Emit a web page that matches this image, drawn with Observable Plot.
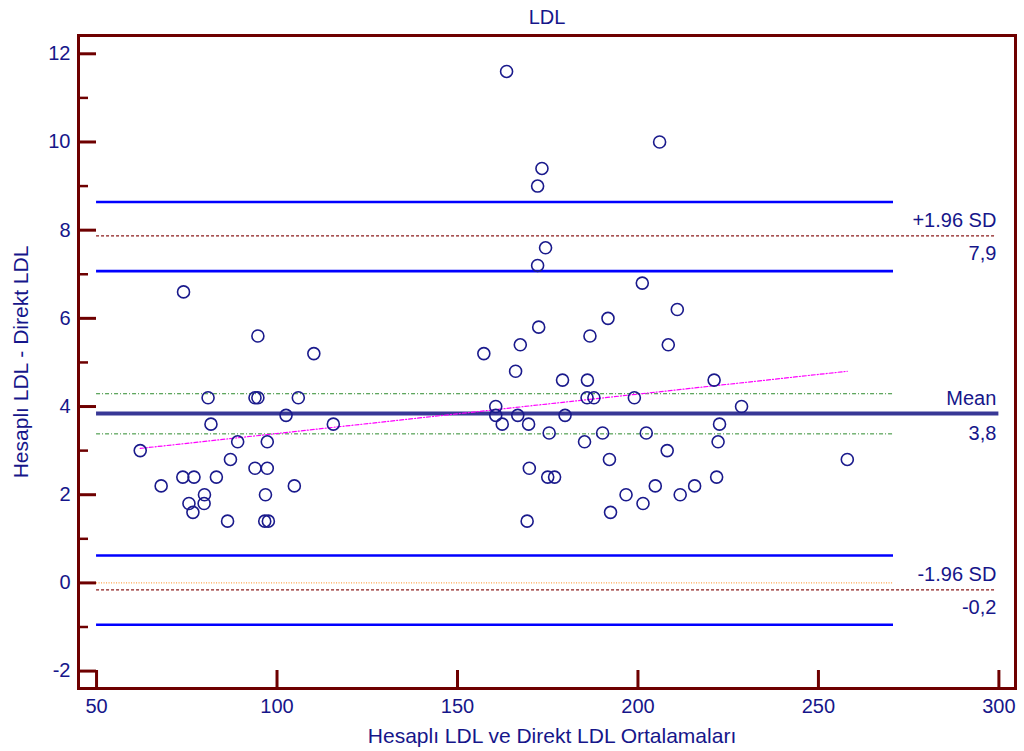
<!DOCTYPE html>
<html>
<head>
<meta charset="utf-8">
<script src="https://cdn.jsdelivr.net/npm/d3@7"></script>
<script src="https://cdn.jsdelivr.net/npm/@observablehq/plot@0.6"></script>
<style>
  html, body { margin: 0; padding: 0; background: #ffffff; }
  #chart svg { display: block; }
</style>
</head>
<body>
<div id="chart"></div>
<script>
// Bland-Altman plot: calculated vs. direct LDL
const title = "LDL";
const xLabel = "Hesaplı LDL ve Direkt LDL Ortalamaları";
const yLabel = "Hesaplı LDL - Direkt LDL";

// Mean of the two methods (x) and their difference (y) per subject
const pairMeans = [
  74.1, 94.7, 110.2, 80.9, 93.9, 94.7, 105.9, 102.5, 81.7, 115.6,
  62.1, 89.1, 97.3, 87.1, 93.9, 97.3, 73.9, 77.0, 83.2, 67.9,
  104.8, 79.9, 96.8, 75.6, 79.8, 76.7, 86.3, 96.6, 97.6,
  163.6, 206.0, 173.4, 172.2, 174.4, 172.2, 201.2, 210.9, 191.7, 172.5,
  186.7, 167.4, 208.4, 157.3, 166.1, 179.1, 186.0, 185.9, 187.8, 199.0,
  160.6, 160.6, 166.7, 179.8, 162.4, 169.7, 175.4, 190.2, 202.3, 185.2,
  192.1, 208.1, 169.9, 175.0, 176.9, 196.7, 201.4, 204.8, 211.7, 215.7,
  192.4, 169.3,
  221.1, 228.7, 222.6, 222.2, 221.8, 258.0
];
const pairDiffs = [
  6.6, 5.6, 5.2, 4.2, 4.2, 4.2, 4.2, 3.8, 3.6, 3.6,
  3.0, 3.2, 3.2, 2.8, 2.6, 2.6, 2.4, 2.4, 2.4, 2.2,
  2.2, 2.0, 2.0, 1.8, 1.8, 1.6, 1.4, 1.4, 1.4,
  11.6, 10.0, 9.4, 9.0, 7.6, 7.2, 6.8, 6.2, 6.0, 5.8,
  5.6, 5.4, 5.4, 5.2, 4.8, 4.6, 4.6, 4.2, 4.2, 4.2,
  4.0, 3.8, 3.8, 3.8, 3.6, 3.6, 3.4, 3.4, 3.4, 3.2,
  2.8, 3.0, 2.6, 2.4, 2.4, 2.0, 1.8, 2.2, 2.0, 2.2,
  1.6, 1.4,
  4.6, 4.0, 3.6, 3.2, 2.4, 2.8
];

// Agreement statistics
const meanDiff = 3.84;
const upperLimit = 7.87;
const lowerLimit = -0.16;
const meanCI = [4.29, 3.38];
const upperLimitCI = [8.64, 7.07];
const lowerLimitCI = [0.62, -0.95];
const regressionX = [62.1, 258.0];
const regressionY = [3.05, 4.80];

// Horizontal extent of the reference lines
const lineStart = 50;
const ciEnd = 270.8;
const limitEnd = 299.3;
const meanEnd = 300;

// Axis ticks
const xTicks = [50, 100, 150, 200, 250, 300];
const yMajorTicks = [-2, 0, 2, 4, 6, 8, 10, 12];
const yMinorTicks = [-1, 1, 3, 5, 7, 9, 11];

const points = pairMeans.map((m, i) => ({mean: m, diff: pairDiffs[i]}));
const regression = regressionX.map((x, i) => ({x, y: regressionY[i]}));
const fmt = v => v.toFixed(1).replace(".", ",");

const W = 1024, H = 751;
const mL = 78, mR = 9, mT = 35, mB = 63;
const frameW = W - mL - mR, frameH = H - mT - mB;

const navy = "#16168a";
const maroon = "#6e0000";
const font = "Liberation Sans, Arial, Helvetica, sans-serif";

const chart = Plot.plot({
  width: W,
  height: H,
  marginLeft: mL,
  marginRight: mR,
  marginTop: mT,
  marginBottom: mB,
  style: {fontFamily: font, fontSize: "20px", color: navy, background: "#ffffff"},
  x: {domain: [45.0, 304.6], label: null},
  y: {domain: [-2.395, 12.415], label: null},
  marks: [
    // zero line
    Plot.ruleY([0], {x1: lineStart, x2: ciEnd, stroke: "#ff8c1a", strokeWidth: 1, strokeDasharray: "1,1.5"}),
    // confidence intervals of the limits of agreement
    Plot.ruleY([...upperLimitCI, ...lowerLimitCI], {x1: lineStart, x2: ciEnd, stroke: "#0000ff", strokeWidth: 2.6}),
    // confidence interval of the mean difference
    Plot.ruleY(meanCI, {x1: lineStart, x2: ciEnd, stroke: "#2e8b2e", strokeWidth: 1, strokeDasharray: "4,2,1,2"}),
    // limits of agreement
    Plot.ruleY([upperLimit, lowerLimit], {x1: lineStart, x2: limitEnd, stroke: "#8b1a1a", strokeWidth: 1.2, strokeDasharray: "3,2"}),
    // mean difference
    Plot.ruleY([meanDiff], {x1: lineStart, x2: meanEnd, stroke: "#383896", strokeWidth: 4}),
    // regression of difference on mean
    Plot.line(regression, {x: "x", y: "y", stroke: "#ff00ff", strokeWidth: 1.2, strokeDasharray: "4,2,1,2"}),
    // observations
    Plot.dot(points, {x: "mean", y: "diff", r: 6, stroke: "#1a1a8c", strokeWidth: 1.6, fill: "none"}),

    // line labels
    Plot.text(["+1.96 SD"], {x: limitEnd, y: upperLimit, textAnchor: "end", lineAnchor: "bottom", dy: -9, fill: navy, fontSize: 20}),
    Plot.text([fmt(upperLimit)], {x: limitEnd, y: upperLimit, textAnchor: "end", lineAnchor: "top", dy: 10, fill: navy, fontSize: 20}),
    Plot.text(["Mean"], {x: limitEnd, y: meanDiff, textAnchor: "end", lineAnchor: "bottom", dy: -9, fill: navy, fontSize: 20}),
    Plot.text([fmt(meanDiff)], {x: limitEnd, y: meanDiff, textAnchor: "end", lineAnchor: "top", dy: 12, fill: navy, fontSize: 20}),
    Plot.text(["-1.96 SD"], {x: limitEnd, y: lowerLimit, textAnchor: "end", lineAnchor: "bottom", dy: -9, fill: navy, fontSize: 20}),
    Plot.text([fmt(lowerLimit).replace("\u2212", "-")], {x: limitEnd, y: lowerLimit, textAnchor: "end", lineAnchor: "top", dy: 10, fill: navy, fontSize: 20}),

    // frame and inward ticks
    Plot.frame({stroke: maroon, strokeWidth: 3}),
    Plot.tickY(yMajorTicks, {y: d => d, stroke: maroon, strokeWidth: 3, insetRight: frameW - 18}),
    Plot.tickY(yMinorTicks, {y: d => d, stroke: maroon, strokeWidth: 2.5, insetRight: frameW - 10}),
    Plot.tickX(xTicks, {x: d => d, stroke: maroon, strokeWidth: 3, insetTop: frameH - 18}),

    // tick labels
    Plot.axisX({ticks: xTicks, tickSize: 0, tickPadding: 10, tickFormat: d => String(d), fontSize: 20, color: navy, label: null}),
    Plot.axisY({ticks: yMajorTicks, tickSize: 0, tickPadding: 8, tickFormat: d => String(d), fontSize: 20, color: navy, label: null}),

    // titles
    Plot.text([title], {frameAnchor: "top", textAnchor: "middle", lineAnchor: "bottom", dy: -12, fill: navy, fontSize: 20}),
    Plot.text([xLabel], {frameAnchor: "bottom", textAnchor: "middle", lineAnchor: "bottom", dx: 5, dy: 54, fill: navy, fontSize: 21}),
    Plot.text([yLabel], {frameAnchor: "left", textAnchor: "middle", lineAnchor: "bottom", rotate: -90, dx: -51, fill: navy, fontSize: 21})
  ]
});

document.getElementById("chart").appendChild(chart);
</script>
</body>
</html>
